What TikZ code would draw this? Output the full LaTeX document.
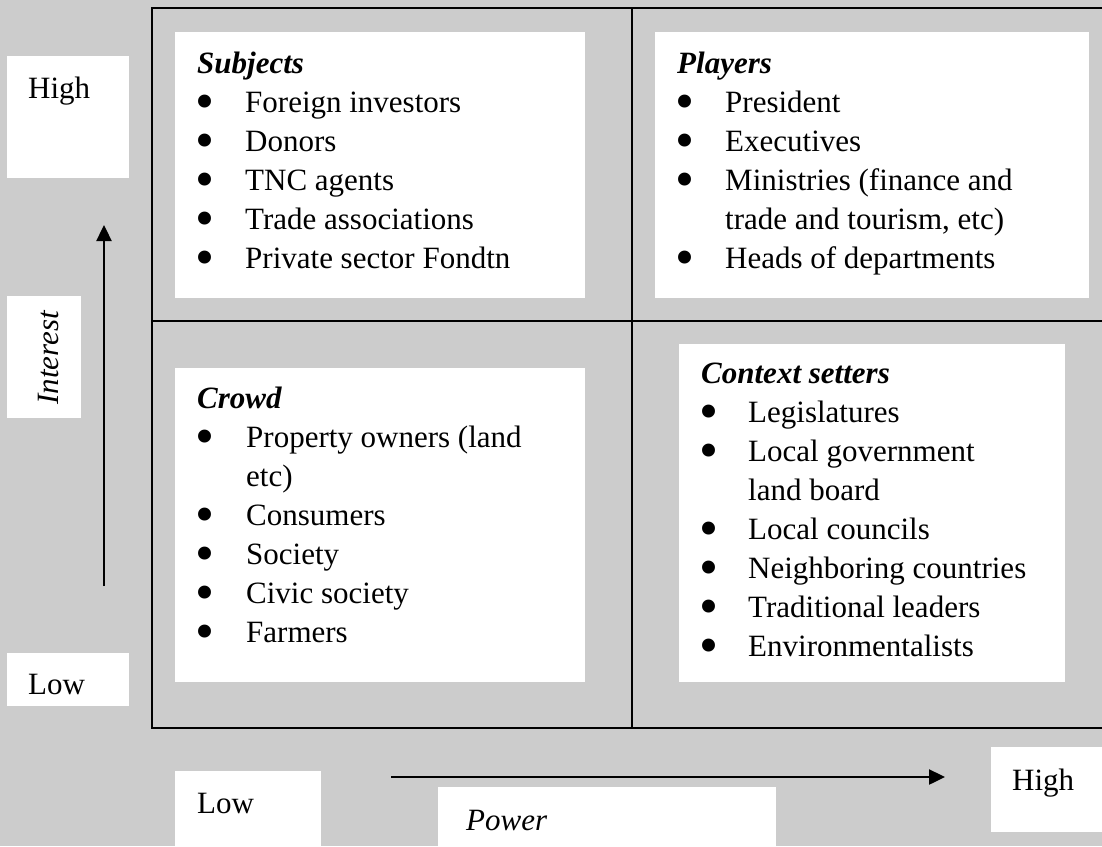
\documentclass[tikz,border=0pt]{standalone}
\usepackage{fontspec}
\usepackage{graphicx}
\setmainfont{Liberation Serif}
\usetikzlibrary{arrows.meta}
\definecolor{panel}{HTML}{CCCCCC}
\newcommand{\dotmark}{\leavevmode\kern-2pt\smash{\raisebox{-7.5pt}{\scalebox{1.75}{\textbullet}}}}
\begin{document}
\begin{tikzpicture}[x=1pt, y=-1pt, font=\fontsize{31}{39}\selectfont,
  card/.style={fill=white, anchor=north west, inner sep=0pt, outer sep=0pt},
  words/.style={anchor=base west, inner sep=0pt, align=left},
  axis/.style={line width=2.4pt, -{Triangle[length=16pt, width=15pt]}}]
\fill[panel] (0,0) rectangle (1102,846);
\useasboundingbox (0,0) rectangle (1102,846);
% grid of the four quadrants
\draw[line width=2pt] (1104,8) -- (152,8) -- (152,728) -- (1104,728);
\draw[line width=2pt] (632,8) -- (632,728);
\draw[line width=2pt] (152,321) -- (1104,321);

% white cards
\node[card, minimum width=410pt, minimum height=266pt] (subj) at (175,32) {};
\node[card, minimum width=434pt, minimum height=266pt] (play) at (655,32) {};
\node[card, minimum width=410pt, minimum height=314pt] (crowd) at (175,368) {};
\node[card, minimum width=386pt, minimum height=338pt] (ctx) at (679,344) {};

\node[words] (subjtxt) at (197,73) {\begin{tabular}[t]{@{}p{48pt}@{}l@{}}
\multicolumn{2}{@{}l@{}}{\textbf{\textit{Subjects}}}\\
\dotmark & Foreign investors\\
\dotmark & Donors\\
\dotmark & TNC agents\\
\dotmark & Trade associations\\
\dotmark & Private sector Fondtn
\end{tabular}};
\node[words] (playtxt) at (677,73) {\begin{tabular}[t]{@{}p{48pt}@{}l@{}}
\multicolumn{2}{@{}l@{}}{\textbf{\textit{Players}}}\\
\dotmark & President\\
\dotmark & Executives\\
\dotmark & Ministries (finance and\\
 & trade and tourism, etc)\\
\dotmark & Heads of departments
\end{tabular}};
\node[words] (crowdtxt) at (197,408) {\begin{tabular}[t]{@{}p{49pt}@{}l@{}}
\multicolumn{2}{@{}l@{}}{\textbf{\textit{Crowd}}}\\
\dotmark & Property owners (land\\
 & etc)\\
\dotmark & Consumers\\
\dotmark & Society\\
\dotmark & Civic society\\
\dotmark & Farmers
\end{tabular}};
\node[words] (ctxtxt) at (701,383) {\begin{tabular}[t]{@{}p{47pt}@{}l@{}}
\multicolumn{2}{@{}l@{}}{\textbf{\textit{Context setters}}}\\
\dotmark & Legislatures\\
\dotmark & Local government\\
 & land board\\
\dotmark & Local councils\\
\dotmark & Neighboring countries\\
\dotmark & Traditional leaders\\
\dotmark & Environmentalists
\end{tabular}};

% interest axis
\node[card, minimum width=122pt, minimum height=122pt] (ihibox) at (7,56) {};
\node[words] (ihi) at (28,98) {High};
\node[card, minimum width=74pt, minimum height=122pt] (ibox) at (7,296) {};
\node[words, rotate=90] (itxt) at (58,405) {\textit{Interest}};
\node[card, minimum width=122pt, minimum height=53pt] (ilobox) at (7,653) {};
\node[words] (ilo) at (28,694) {Low};
\coordinate (ifrom) at (104,586);
\coordinate (ito) at (104,225);
\draw[axis] (ifrom) -- (ito);

% power axis
\node[card, minimum width=146pt, minimum height=76pt] (plobox) at (175,771) {};
\node[words] (plo) at (197,813) {Low};
\node[card, minimum width=338pt, minimum height=60pt] (pbox) at (438,787) {};
\node[words] (ptxt) at (466,830) {\textit{Power}};
\node[card, minimum width=113pt, minimum height=85pt] (phibox) at (991,747) {};
\node[words] (phi) at (1012,790) {High};
\coordinate (pfrom) at (391,777);
\coordinate (pto) at (945,777);
\draw[axis] (pfrom) -- (pto);
\end{tikzpicture}
\end{document}
